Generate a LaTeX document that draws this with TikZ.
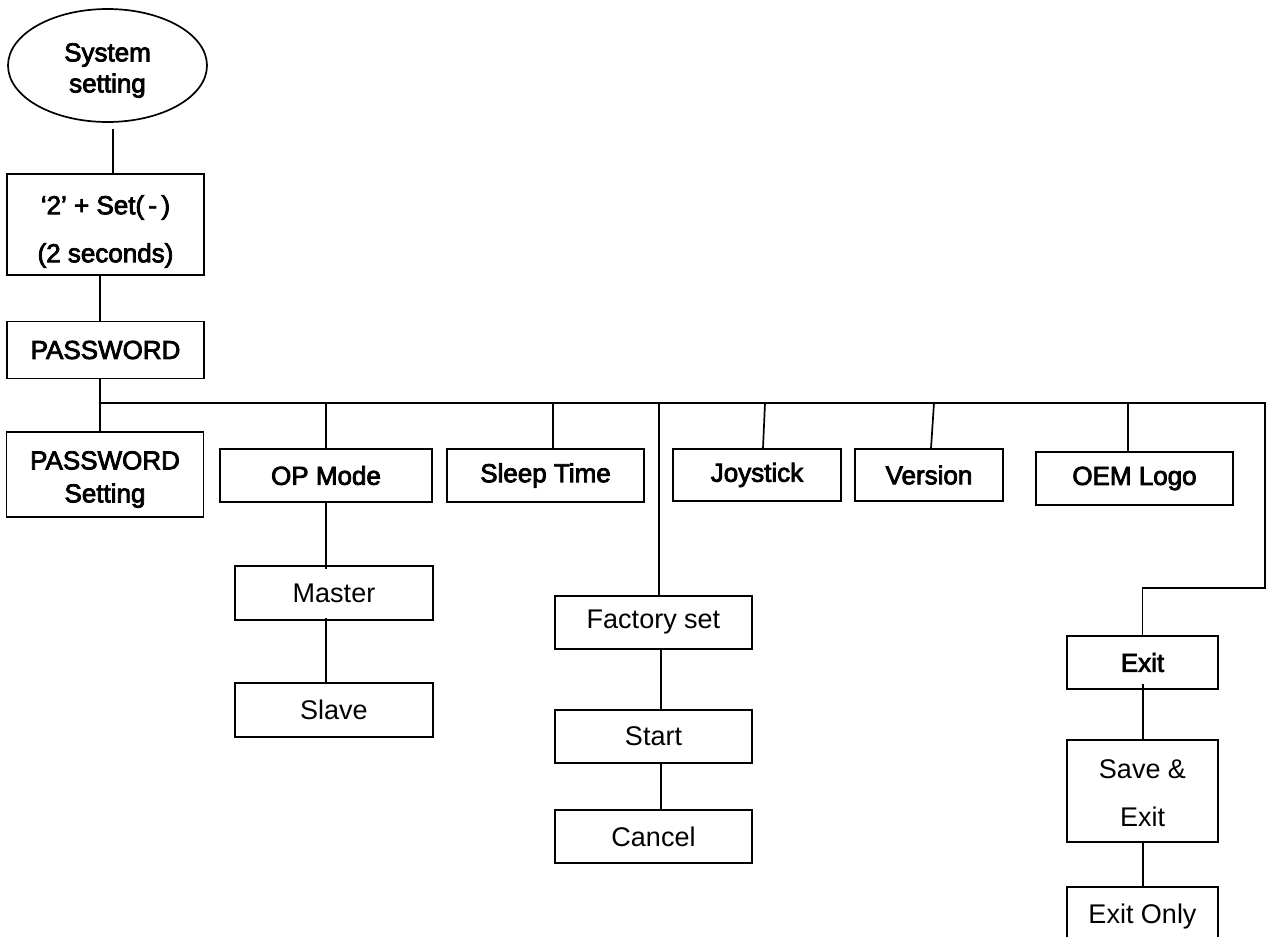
\documentclass[tikz,border=0pt]{standalone}
\usepackage{fontspec}
\setmainfont{Liberation Sans}
\newfontfamily\heavyfont{Liberation Sans}[FakeBold=3]
\usetikzlibrary{shapes.geometric}
\begin{document}
\begin{tikzpicture}[x=1pt,y=-1pt,line width=1.7pt,
  box/.style={draw,rectangle,inner sep=0pt,align=center},
  hv/.style={font=\heavyfont\fontsize{26}{30}\selectfont},
  nm/.style={font=\fontsize{27}{30}\selectfont},
  wide/.style={minimum width=197pt},
  ht/.style={minimum height=53pt},
  txt/.style={font=\heavyfont\fontsize{26}{#1}\selectfont,align=center},
  ntxt/.style={font=\fontsize{27}{#1}\selectfont,align=center}]
\clip (0,0) rectangle (1269,937);
\fill[white] (0,0) rectangle (1269,937);

% left column
\node[draw,ellipse,inner sep=0pt,minimum width=199pt,minimum height=113pt,
      label={[txt=31,yshift=-5pt]center:System\\setting}] (sys) at (107.5,65.5) {};
\node[box,wide,minimum height=101pt,
      label={[txt=48,yshift=-7pt]center:‘2’ + Set(\,-\,)\\(2 seconds)}] (k2) at (105.5,224.5) {};
\node[box,wide,minimum height=57pt,hv] (pw) at (105.5,350) {PASSWORD};
\node[box,wide,minimum height=85pt,
      label={[txt=33,yshift=-5pt]center:PASSWORD\\Setting}] (pws) at (105,474.5) {};

% first level
\node[box,minimum width=212pt,ht,hv] (op) at (326,475.5) {OP Mode};
\node[box,wide,ht,hv] (sleep) at (545.5,475.5) {Sleep Time};
\node[box,minimum width=168pt,minimum height=52pt,hv] (joy) at (757,475) {Joystick};
\node[box,minimum width=148pt,minimum height=52pt,hv] (ver) at (929,475) {Version};
\node[box,wide,ht,hv] (oem) at (1134.5,478.5) {OEM Logo};

% OP mode branch
\node[box,minimum width=198pt,minimum height=54pt,nm] (master) at (334,593) {Master};
\node[box,minimum width=198pt,minimum height=54pt,nm] (slave) at (334,710) {Slave};

% factory branch
\node[box,wide,ht,nm] (fac) at (653.5,622.5) {Factory set};
\node[box,wide,ht,nm] (start) at (653.5,736.5) {Start};
\node[box,wide,ht,nm] (cancel) at (653.5,836.5) {Cancel};

% exit branch
\node[box,minimum width=151pt,ht,hv] (exit) at (1142.5,662.5) {Exit};
\node[box,minimum width=151pt,minimum height=102pt,
      label={[ntxt=48,yshift=-2pt]center:Save \&\\Exit}] (save) at (1142.5,791) {};
\node[box,minimum width=151pt,minimum height=60pt,nm] (exonly) at (1142.5,917) {Exit Only};

% connectors
\draw ([xshift=5.5pt,yshift=-6pt]sys.south) -- ([xshift=7.5pt]k2.north);
\draw ([xshift=-5.5pt]k2.south) -- ([xshift=-5.5pt]pw.north);
\draw ([xshift=-5.5pt]pw.south) -- ([xshift=-5pt]pws.north);
\coordinate (bus) at (100,403);
\coordinate (busR) at (1265,403);
\coordinate (busD) at (1265,588);
\draw (bus) -- (busR) -- (busD) -- (busD -| exit.north) -- (exit.north);
\draw (op.north |- bus) -- (op.north);
\draw (553,403) -- ([xshift=7.5pt]sleep.north);
\draw (659,403) -- ([xshift=5.5pt]fac.north);
\draw (765,403) -- ([xshift=6pt]joy.north);
\draw (934,403) -- ([xshift=2pt]ver.north);
\draw (1128,403) -- ([xshift=-6.5pt]oem.north);
\draw (op.south) -- ([xshift=-8pt,yshift=-4pt]master.north);
\draw ([xshift=-8pt,yshift=3pt]master.south) -- ([xshift=-8pt]slave.north);
\draw ([xshift=7.5pt]fac.south) -- ([xshift=7.5pt]start.north);
\draw ([xshift=7.5pt]start.south) -- ([xshift=7.5pt]cancel.north);
\draw ([xshift=0.5pt,yshift=6pt]exit.south) -- ([xshift=0.5pt]save.north);
\draw ([xshift=0.5pt]save.south) -- ([xshift=0.5pt]exonly.north);
\end{tikzpicture}
\end{document}
